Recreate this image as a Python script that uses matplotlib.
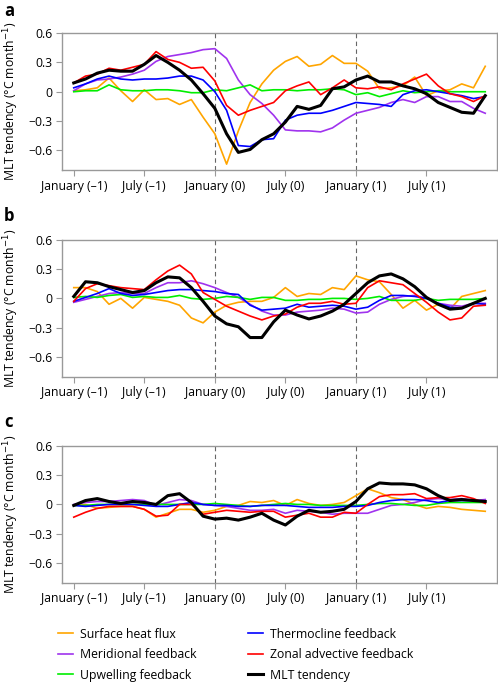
import matplotlib
matplotlib.use("Agg")
import matplotlib.pyplot as plt

plt.rcParams['font.family'] = ['Open Sans', 'DejaVu Sans']

# months from January (-1) to December (1)
months = list(range(36))
xtick_pos = [0, 6, 12, 18, 24, 30]
xtick_labels = ['January (–1)', 'July (–1)', 'January (0)', 'July (0)', 'January (1)', 'July (1)']
ytick_pos = [0.6, 0.3, 0, -0.3, -0.6]
ytick_labels = ['0.6', '0.3', '0', '−0.3', '−0.6']
event_lines = [12, 24]

names = ['Surface heat flux', 'Meridional feedback', 'Upwelling feedback',
         'Thermocline feedback', 'Zonal advective feedback', 'MLT tendency']
colors = ['#ffa500', '#a033ee', '#00ee00', '#0000ff', '#ff0000', '#000000']

# panel a
a_shf = [0.01, 0.02, 0.04, 0.14, 0.01, -0.10, 0.02, -0.08, -0.07, -0.13, -0.08, -0.26,
         -0.43, -0.74, -0.40, -0.11, 0.08, 0.22, 0.31, 0.36, 0.26, 0.28, 0.37, 0.29,
         0.29, 0.21, 0.03, 0.04, 0.06, 0.15, -0.04, 0.01, 0.02, 0.08, 0.04, 0.26]
a_mer = [0.01, 0.08, 0.12, 0.13, 0.15, 0.18, 0.22, 0.31, 0.36, 0.38, 0.40, 0.43,
         0.44, 0.34, 0.12, -0.03, -0.12, -0.24, -0.39, -0.40, -0.40, -0.41, -0.37, -0.29,
         -0.22, -0.19, -0.16, -0.11, -0.08, -0.11, -0.05, -0.05, -0.10, -0.10, -0.17, -0.22]
a_upw = [0.00, 0.01, 0.01, 0.07, 0.02, 0.01, 0.01, 0.02, 0.02, 0.01, -0.01, -0.01,
         0.02, 0.01, 0.04, 0.07, 0.01, 0.02, 0.02, 0.01, 0.02, 0.02, 0.03, 0.02,
         -0.03, -0.01, -0.05, -0.02, 0.01, -0.01, 0.00, 0.01, 0.00, 0.00, 0.00, 0.00]
a_thc = [0.04, 0.08, 0.13, 0.16, 0.13, 0.12, 0.13, 0.13, 0.14, 0.16, 0.16, 0.12,
         0.00, -0.19, -0.55, -0.56, -0.49, -0.48, -0.29, -0.24, -0.22, -0.22, -0.19, -0.15,
         -0.11, -0.12, -0.13, -0.15, -0.03, 0.01, 0.02, 0.00, -0.02, -0.04, -0.07, -0.05]
a_zon = [0.09, 0.16, 0.18, 0.24, 0.22, 0.25, 0.28, 0.41, 0.33, 0.30, 0.24, 0.25,
         0.11, -0.14, -0.24, -0.19, -0.15, -0.11, 0.01, 0.06, 0.10, -0.03, 0.04, 0.12,
         0.04, 0.03, 0.05, 0.02, 0.08, 0.13, 0.18, 0.06, -0.02, -0.05, -0.10, -0.04]
a_mlt = [0.09, 0.13, 0.19, 0.22, 0.21, 0.21, 0.28, 0.37, 0.30, 0.22, 0.12, -0.02,
         -0.17, -0.43, -0.62, -0.59, -0.49, -0.43, -0.31, -0.15, -0.18, -0.14, 0.03, 0.05,
         0.12, 0.16, 0.10, 0.10, 0.06, 0.03, -0.02, -0.11, -0.16, -0.21, -0.22, -0.04]

# panel b
b_shf = [0.11, 0.11, 0.07, -0.06, 0.00, -0.10, 0.01, -0.01, -0.03, -0.07, -0.20, -0.25,
         -0.14, -0.07, -0.04, -0.03, -0.03, 0.01, 0.11, 0.02, 0.05, 0.04, 0.11, 0.09,
         0.23, 0.19, 0.17, 0.04, -0.10, -0.02, -0.12, -0.06, -0.11, 0.02, 0.05, 0.08]
b_mer = [-0.04, -0.01, 0.02, 0.05, 0.06, 0.05, 0.05, 0.11, 0.16, 0.16, 0.18, 0.15,
         0.11, 0.06, 0.01, -0.06, -0.13, -0.17, -0.17, -0.14, -0.13, -0.12, -0.10, -0.11,
         -0.15, -0.14, -0.06, -0.01, 0.02, 0.03, 0.00, -0.05, -0.07, -0.08, -0.05, -0.05]
b_upw = [0.01, 0.02, 0.01, 0.03, 0.04, 0.01, 0.02, 0.01, 0.01, 0.03, 0.00, -0.01,
         0.00, 0.02, 0.01, -0.01, 0.01, 0.01, -0.02, -0.02, -0.01, -0.01, 0.00, 0.00,
         -0.01, 0.00, 0.02, -0.02, -0.02, -0.02, 0.00, -0.02, -0.01, -0.01, -0.01, 0.00]
b_thc = [-0.03, 0.01, 0.05, 0.10, 0.05, 0.03, 0.04, 0.06, 0.08, 0.09, 0.09, 0.08,
         0.07, 0.05, 0.04, -0.07, -0.12, -0.11, -0.10, -0.06, -0.09, -0.08, -0.07, -0.08,
         -0.11, -0.09, -0.02, 0.03, 0.03, 0.02, 0.00, -0.05, -0.09, -0.10, -0.05, -0.06]
b_zon = [-0.03, 0.10, 0.15, 0.13, 0.11, 0.10, 0.09, 0.19, 0.28, 0.34, 0.25, 0.06,
         -0.01, -0.08, -0.13, -0.18, -0.22, -0.18, -0.16, -0.09, -0.05, -0.05, -0.03, -0.06,
         -0.05, 0.11, 0.18, 0.16, 0.14, 0.05, -0.04, -0.14, -0.22, -0.20, -0.08, -0.07]
b_mlt = [0.02, 0.17, 0.16, 0.12, 0.09, 0.06, 0.08, 0.16, 0.22, 0.21, 0.11, -0.03,
         -0.18, -0.26, -0.29, -0.40, -0.40, -0.24, -0.12, -0.17, -0.21, -0.18, -0.13, -0.06,
         0.05, 0.16, 0.23, 0.25, 0.20, 0.12, 0.01, -0.06, -0.11, -0.10, -0.05, 0.00]

# panel c
c_shf = [-0.01, 0.00, -0.04, -0.03, -0.02, -0.02, -0.05, -0.13, -0.09, -0.05, -0.05, -0.08,
         -0.06, -0.02, -0.01, 0.03, 0.02, 0.04, -0.01, 0.05, 0.01, -0.01, 0.00, 0.02,
         0.09, 0.16, 0.12, 0.07, 0.05, 0.00, -0.04, -0.02, -0.03, -0.05, -0.06, -0.07]
c_mer = [0.00, 0.02, 0.03, 0.03, 0.04, 0.05, 0.04, -0.01, 0.02, 0.05, 0.04, 0.00,
         -0.01, -0.02, -0.04, -0.06, -0.06, -0.05, -0.09, -0.06, -0.07, -0.08, -0.10, -0.09,
         -0.09, -0.09, -0.05, -0.01, 0.00, 0.02, 0.05, 0.06, 0.05, 0.06, 0.04, 0.05]
c_upw = [-0.01, -0.01, 0.00, 0.00, 0.00, 0.00, 0.00, 0.00, 0.00, 0.00, 0.00, 0.00,
         0.01, 0.00, -0.01, -0.02, -0.01, 0.00, 0.01, 0.00, 0.00, -0.01, -0.01, -0.01,
         -0.01, 0.00, 0.01, 0.01, 0.00, -0.01, -0.01, 0.01, 0.02, 0.02, 0.02, 0.02]
c_thc = [-0.01, -0.02, -0.01, 0.00, 0.00, 0.00, -0.01, -0.02, -0.02, 0.00, 0.02, 0.00,
         -0.01, -0.01, -0.02, -0.02, -0.01, -0.01, -0.01, -0.02, -0.03, -0.03, -0.03, -0.02,
         -0.02, -0.01, 0.02, 0.04, 0.05, 0.05, 0.04, 0.02, 0.04, 0.04, 0.04, 0.03]
c_zon = [-0.13, -0.08, -0.04, -0.02, -0.02, -0.02, -0.05, -0.12, -0.11, 0.00, 0.00, -0.10,
         -0.08, -0.06, -0.07, -0.08, -0.07, -0.07, -0.13, -0.11, -0.09, -0.13, -0.13, -0.08,
         -0.09, 0.00, 0.08, 0.10, 0.10, 0.11, 0.06, 0.07, 0.07, 0.09, 0.06, 0.01]
c_mlt = [-0.01, 0.04, 0.06, 0.03, 0.01, 0.03, 0.02, 0.00, 0.09, 0.11, 0.02, -0.12,
         -0.15, -0.14, -0.16, -0.13, -0.09, -0.16, -0.21, -0.12, -0.06, -0.08, -0.07, -0.05,
         0.03, 0.16, 0.22, 0.21, 0.21, 0.20, 0.16, 0.09, 0.04, 0.05, 0.04, 0.03]

panels = [
    ('a', [a_shf, a_mer, a_upw, a_thc, a_zon, a_mlt]),
    ('b', [b_shf, b_mer, b_upw, b_thc, b_zon, b_mlt]),
    ('c', [c_shf, c_mer, c_upw, c_thc, c_zon, c_mlt]),
]

fig = plt.figure(figsize=(4.98, 6.85), dpi=100)
frame_col = '#999999'
bottoms = [0.7518, 0.4501, 0.1493]
label_y = [0.984, 0.684, 0.384]

for (tag, series), b, ly in zip(panels, bottoms, label_y):
    ax = fig.add_axes([0.1245, b, 0.8735, 0.2])
    for xv in event_lines:
        ax.axvline(xv, color='#666666', lw=0.8, ls=(0, (4, 3)), zorder=1)
    for vals, name, col in zip(series, names, colors):
        lw = 2.2 if col == '#000000' else 1.2
        ax.plot(months, vals, color=col, lw=lw, label=name, zorder=3 if lw > 2 else 2)
    ax.set_xlim(-1, 36)
    ax.set_ylim(-0.8, 0.6)
    ax.set_xticks(xtick_pos, labels=xtick_labels)
    ax.set_yticks(ytick_pos, labels=ytick_labels)
    ax.tick_params(direction='out', length=4, width=0.8, color=frame_col,
                   labelsize=8.8, pad=3)
    for s in ax.spines.values():
        s.set_color(frame_col)
        s.set_linewidth(1.0)
    ax.set_ylabel('MLT tendency (°C month$^{-1}$)', fontsize=8.8, labelpad=5)
    fig.text(0.008, ly, tag, fontsize=12, fontweight='bold', va='center', ha='left')
    handles, labels = ax.get_legend_handles_labels()

fig.legend(handles, labels, ncol=2, loc='upper left', bbox_to_anchor=(0.095, 0.1),
           frameon=False, fontsize=8.8, handlelength=1.2, handletextpad=0.6,
           columnspacing=4.2, labelspacing=0.62)

fig.savefig('out.png', dpi=100)
